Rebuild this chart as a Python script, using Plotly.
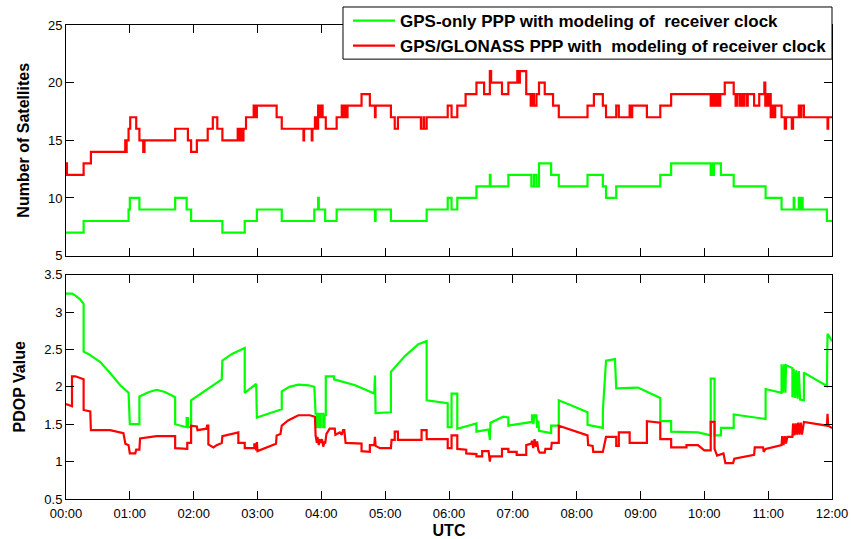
import plotly.graph_objects as go

# ---- hour labels on the shared time axis (hours since 00:00 UTC) ----
hour_ticks = list(range(13))
hour_labels = [f"{h:02d}:00" for h in hour_ticks]

series_names = [
    "GPS-only PPP with modeling of\u00a0 receiver clock",
    "GPS/GLONASS PPP with\u00a0 modeling of receiver clock",
]

# ---- number of tracked satellites: epoch where the count changes, new count ----
gps_sat_time = [0, 0.276, 0.98, 1.0, 1.15, 1.71, 1.89, 1.96, 2.45, 2.80, 2.99, 3.38, 3.89, 3.95,
                3.96, 4.06, 4.24, 4.84, 4.85, 5.09, 5.65, 5.98, 6.04, 6.13, 6.43, 6.64, 6.65, 6.93,
                7.29, 7.33, 7.37, 7.41, 7.60, 7.72, 8.17, 8.41, 8.46, 8.62, 9.31, 9.48, 10.10, 10.12,
                10.13, 10.15, 10.26, 10.46, 10.96, 11.21, 11.40, 11.41, 11.48, 11.50, 11.52, 11.54,
                11.92, 12.0]
gps_sat_count = [7, 8, 9, 10, 9, 10, 9, 8, 7, 8, 9, 8, 9, 10,
                 9, 8, 9, 8, 9, 8, 9, 10, 9, 10, 11, 12, 11, 12,
                 11, 12, 11, 13, 12, 11, 12, 11, 10, 11, 12, 13, 12, 13,
                 12, 13, 12, 11, 10, 9, 10, 9, 10, 9, 10, 9,
                 8, 8]

gr_sat_time = [0, 0.015, 0.276, 0.39, 0.928, 0.94, 0.95, 0.98, 1.006, 1.10, 1.15, 1.21, 1.23, 1.71,
               1.91, 1.96, 2.05, 2.22, 2.30, 2.37, 2.45, 2.69, 2.70, 2.72, 2.73, 2.75, 2.76, 2.78,
               2.82, 2.94, 2.96, 2.99, 3.30, 3.38, 3.72, 3.73, 3.85, 3.86, 3.90, 3.93, 3.95, 3.98,
               3.99, 4.02, 4.07, 4.24, 4.32, 4.34, 4.36, 4.38, 4.41, 4.63, 4.76, 4.84, 4.85, 5.09,
               5.15, 5.20, 5.56, 5.60, 5.61, 5.65, 5.98, 6.04, 6.13, 6.26, 6.43, 6.55, 6.64, 6.66,
               6.83, 6.93, 7.07, 7.09, 7.11, 7.21, 7.28, 7.30, 7.33, 7.37, 7.41, 7.50, 7.63, 7.72,
               8.17, 8.27, 8.41, 8.46, 8.62, 8.66, 8.83, 8.85, 8.87, 9.10, 9.31, 9.48, 10.10, 10.12,
               10.13, 10.16, 10.19, 10.21, 10.23, 10.25, 10.32, 10.46, 10.49, 10.51, 10.55, 10.57,
               10.60, 10.62, 10.66, 10.68, 10.78, 10.86, 10.94, 10.955, 10.98, 11.00, 11.02, 11.04,
               11.06, 11.09, 11.11, 11.21, 11.26, 11.28, 11.37, 11.39, 11.48, 11.50, 11.52, 11.56,
               11.93, 11.94, 12.0]
gr_sat_count = [13, 12, 13, 14, 15, 14, 15, 16, 17, 16, 15, 14, 15, 16,
                15, 14, 15, 16, 17, 16, 15, 16, 15, 16, 15, 16, 15, 16,
                17, 18, 17, 18, 17, 16, 15, 16, 15, 16, 17, 16, 18, 17,
                18, 17, 16, 17, 18, 17, 18, 17, 18, 19, 18, 17, 18, 17,
                16, 17, 16, 17, 16, 17, 18, 17, 18, 19, 20, 19, 21, 20,
                19, 20, 21, 20, 21, 19, 18, 19, 18, 19, 20, 19, 18, 17,
                18, 19, 18, 17, 18, 17, 18, 17, 18, 17, 18, 19, 18, 19,
                18, 19, 18, 19, 18, 19, 20, 19, 18, 19, 18, 19,
                18, 19, 18, 19, 18, 19, 20, 18, 19, 18, 19, 17,
                18, 17, 18, 17, 16, 17, 16, 17, 18, 17, 18, 17,
                16, 17, 17]

# ---- PDOP: time (h) and value; repeated times mark jumps ----
gps_pdop_time = [0, 0.094, 0.15, 0.22, 0.276, 0.276, 0.35, 0.537, 0.694, 0.85, 0.98, 0.99, 1.0, 1.15,
                 1.15, 1.30, 1.42, 1.55, 1.71, 1.71, 1.89, 1.89, 1.91, 1.91, 1.96, 1.96, 2.44, 2.45,
                 2.60, 2.80, 2.80, 2.98, 2.99, 3.38, 3.38, 3.50, 3.64, 3.80, 3.89, 3.91, 3.93, 3.93,
                 3.95, 3.95, 3.97, 3.97, 3.99, 3.99, 4.03, 4.03, 4.05, 4.05, 4.07, 4.07, 4.20, 4.20,
                 4.53, 4.83, 4.84, 4.85, 5.09, 5.09, 5.31, 5.52, 5.65, 5.65, 5.98, 5.98, 6.04, 6.04,
                 6.13, 6.13, 6.43, 6.43, 6.62, 6.64, 6.65, 6.85, 6.93, 6.93, 7.30, 7.30, 7.32, 7.32,
                 7.34, 7.37, 7.38, 7.40, 7.41, 7.60, 7.60, 7.72, 7.72, 7.92, 8.17, 8.17, 8.41, 8.41,
                 8.46, 8.60, 8.62, 8.96, 9.31, 9.31, 9.48, 9.48, 9.90, 10.10, 10.10, 10.16, 10.16, 10.26,
                 10.26, 10.46, 10.46, 10.96, 10.96, 11.21, 11.21, 11.23, 11.25, 11.27, 11.28, 11.38,
                 11.38, 11.40, 11.42, 11.44, 11.46, 11.48, 11.50, 11.56, 11.56, 11.92, 11.93, 12.0]
gps_pdop = [3.245, 3.245, 3.22, 3.17, 3.11, 2.47, 2.44, 2.33, 2.18, 2.02, 1.92, 1.64, 1.50, 1.50,
            1.87, 1.93, 1.96, 1.93, 1.86, 1.50, 1.46, 1.58, 1.58, 1.46, 1.46, 1.82, 2.10, 2.35,
            2.44, 2.52, 1.92, 2.04, 1.59, 1.70, 1.94, 2.00, 2.03, 2.02, 2.00, 1.64, 1.64, 1.46,
            1.46, 1.64, 1.64, 1.46, 1.46, 1.64, 1.64, 1.46, 1.46, 1.62, 1.62, 2.14, 2.14, 2.10,
            2.02, 1.91, 2.15, 1.65, 1.66, 2.20, 2.41, 2.57, 2.61, 1.82, 1.78, 1.46, 1.46, 1.91,
            1.91, 1.44, 1.51, 1.40, 1.43, 1.29, 1.52, 1.60, 1.59, 1.48, 1.53, 1.62, 1.62, 1.50,
            1.62, 1.62, 1.45, 1.55, 1.41, 1.38, 1.48, 1.48, 1.82, 1.75, 1.66, 1.49, 1.45, 1.68,
            2.35, 2.37, 1.98, 1.99, 1.85, 1.54, 1.54, 1.40, 1.39, 1.35, 2.11, 2.11, 1.35, 1.35,
            1.45, 1.45, 1.63, 1.57, 1.97, 1.92, 2.30, 1.92, 2.30, 1.92, 2.29, 2.25,
            1.86, 2.24, 1.85, 2.22, 1.84, 2.21, 1.83, 1.82, 2.19, 2.01, 2.71, 2.61]

gr_pdop_time = [0, 0.094, 0.094, 0.146, 0.276, 0.276, 0.38, 0.39, 0.69, 0.90, 0.93, 0.98, 1.0, 1.085,
                1.10, 1.15, 1.16, 1.42, 1.71, 1.71, 1.90, 1.90, 1.96, 1.96, 2.05, 2.06, 2.20, 2.21,
                2.23, 2.23, 2.31, 2.36, 2.44, 2.45, 2.70, 2.70, 2.80, 2.80, 2.95, 2.95, 2.97, 2.98,
                2.99, 3.0, 3.29, 3.30, 3.36, 3.38, 3.48, 3.64, 3.82, 3.90, 3.91, 3.93, 3.94, 3.96,
                3.97, 3.99, 4.01, 4.03, 4.05, 4.06, 4.08, 4.13, 4.21, 4.22, 4.29, 4.32, 4.34, 4.36,
                4.38, 4.63, 4.63, 4.76, 4.76, 4.83, 4.84, 4.85, 4.92, 5.09, 5.10, 5.15, 5.15, 5.20,
                5.20, 5.57, 5.57, 5.65, 5.65, 5.98, 5.98, 6.04, 6.04, 6.13, 6.13, 6.27, 6.27, 6.43,
                6.43, 6.52, 6.52, 6.62, 6.64, 6.65, 6.83, 6.83, 6.93, 6.93, 7.06, 7.06, 7.21, 7.21,
                7.29, 7.30, 7.32, 7.34, 7.36, 7.38, 7.40, 7.42, 7.50, 7.51, 7.60, 7.61, 7.72, 7.72,
                8.17, 8.18, 8.25, 8.26, 8.41, 8.46, 8.62, 8.62, 8.66, 8.66, 8.83, 8.83, 9.10, 9.10,
                9.31, 9.31, 9.48, 9.48, 9.72, 9.72, 9.90, 10.0, 10.10, 10.10, 10.16, 10.16, 10.20, 10.30,
                10.33, 10.45, 10.47, 10.78, 10.79, 10.92, 10.93, 10.96, 11.21, 11.22, 11.24, 11.26,
                11.28, 11.30, 11.38, 11.39, 11.41, 11.43, 11.45, 11.47, 11.49, 11.51, 11.53, 11.56,
                11.92, 11.93, 11.94, 12.0]
gr_pdop = [1.77, 1.74, 2.14, 2.14, 2.10, 1.69, 1.67, 1.42, 1.42, 1.38, 1.24, 1.22, 1.11, 1.11,
           1.16, 1.16, 1.31, 1.34, 1.34, 1.18, 1.17, 1.25, 1.25, 1.48, 1.47, 1.42, 1.44, 1.48,
           1.48, 1.23, 1.19, 1.22, 1.25, 1.34, 1.39, 1.25, 1.25, 1.18, 1.18, 1.23, 1.23, 1.15,
           1.26, 1.14, 1.24, 1.35, 1.37, 1.48, 1.55, 1.62, 1.62, 1.60, 1.35, 1.25, 1.33, 1.22,
           1.30, 1.25, 1.30, 1.20, 1.27, 1.24, 1.37, 1.44, 1.44, 1.36, 1.39, 1.36, 1.42, 1.42,
           1.25, 1.24, 1.14, 1.13, 1.22, 1.22, 1.33, 1.21, 1.18, 1.18, 1.29, 1.29, 1.40, 1.40,
           1.29, 1.29, 1.42, 1.42, 1.30, 1.30, 1.18, 1.18, 1.35, 1.35, 1.17, 1.16, 1.11, 1.10,
           1.07, 1.07, 1.14, 1.14, 1.00, 1.07, 1.07, 1.17, 1.17, 1.13, 1.13, 1.09, 1.09, 1.22,
           1.24, 1.28, 1.18, 1.30, 1.20, 1.27, 1.15, 1.12, 1.12, 1.17, 1.17, 1.25, 1.25, 1.48,
           1.35, 1.22, 1.21, 1.13, 1.13, 1.33, 1.33, 1.21, 1.21, 1.39, 1.39, 1.25, 1.25, 1.54,
           1.52, 1.30, 1.30, 1.19, 1.19, 1.22, 1.22, 1.15, 1.15, 1.53, 1.53, 1.17, 1.08, 1.11,
           0.98, 0.98, 1.04, 1.09, 1.19, 1.19, 1.13, 1.17, 1.22, 1.34, 1.22, 1.34,
           1.24, 1.33, 1.33, 1.51, 1.35, 1.51, 1.36, 1.52, 1.36, 1.52, 1.36, 1.53,
           1.48, 1.64, 1.48, 1.45]

GREEN = "#00ff00"
RED = "#ff0000"
FONT = "Liberation Sans, Arial, Helvetica, sans-serif"
LINE_W = 2.2

fig = go.Figure()

# upper panel: satellite counts (held until the next change)
fig.add_trace(go.Scatter(x=gps_sat_time, y=gps_sat_count, mode="lines", line_shape="hv",
                         line=dict(color=GREEN, width=LINE_W), name=series_names[0],
                         xaxis="x", yaxis="y"))
fig.add_trace(go.Scatter(x=gr_sat_time, y=gr_sat_count, mode="lines", line_shape="hv",
                         line=dict(color=RED, width=LINE_W), name=series_names[1],
                         xaxis="x", yaxis="y"))

# lower panel: PDOP
fig.add_trace(go.Scatter(x=gps_pdop_time, y=gps_pdop, mode="lines",
                         line=dict(color=GREEN, width=LINE_W), showlegend=False,
                         xaxis="x2", yaxis="y2"))
fig.add_trace(go.Scatter(x=gr_pdop_time, y=gr_pdop, mode="lines",
                         line=dict(color=RED, width=LINE_W), showlegend=False,
                         xaxis="x2", yaxis="y2"))

axis_style = dict(showline=True, linecolor="black", linewidth=1, mirror="ticks",
                  ticks="inside", ticklen=8, tickcolor="black", tickwidth=1,
                  showgrid=False, zeroline=False, automargin=False,
                  tickfont=dict(family=FONT, size=13, color="black"))
title_font = dict(family=FONT, size=16, color="black")

# framed box behind the legend entries
fig.add_shape(type="rect", xref="paper", yref="paper",
              x0=0.3616, x1=1.0, y0=0.928, y1=1.038,
              line=dict(color="black", width=1), fillcolor="white", layer="above")

fig.update_layout(
    width=851, height=539,
    margin=dict(l=66, r=19, t=25, b=40, autoexpand=False),
    paper_bgcolor="white", plot_bgcolor="white",
    xaxis=dict(domain=[0, 1], anchor="y", range=[0, 12], tickvals=hour_ticks,
               showticklabels=False, **axis_style),
    yaxis=dict(domain=[0.5135, 1], anchor="x", range=[5, 25], tickvals=[5, 10, 15, 20, 25],
               title=dict(text="<b>Number of Satellites</b>", font=title_font, standoff=14),
               **axis_style),
    xaxis2=dict(domain=[0, 1], anchor="y2", range=[0, 12], tickvals=hour_ticks,
                ticktext=hour_labels, ticklabelstandoff=2,
                title=dict(text="<b>UTC</b>", font=title_font, standoff=7),
                **axis_style),
    yaxis2=dict(domain=[0, 0.4734], anchor="x2", range=[0.5, 3.5],
                tickvals=[0.5, 1, 1.5, 2, 2.5, 3, 3.5],
                ticktext=["0.5", "1", "1.5", "2", "2.5", "3", "3.5"],
                title=dict(text="<b>PDOP Value</b>", font=title_font, standoff=14),
                **axis_style),
    legend=dict(xref="container", yref="container", x=832 / 851, y=1 - 3 / 539,
                xanchor="right", yanchor="top",
                bgcolor="rgba(0,0,0,0)", borderwidth=0, itemwidth=42,
                font=dict(family=FONT, size=17, color="black", weight="bold"),
                tracegroupgap=0),
    showlegend=True,
)

fig.write_html("out.html")
